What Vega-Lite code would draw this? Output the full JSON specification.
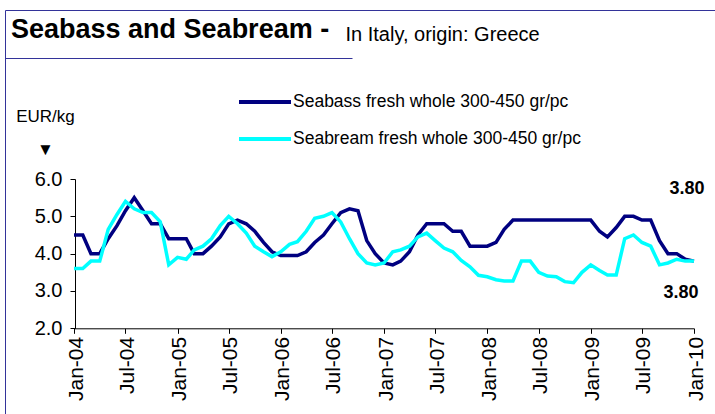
{
  "$schema": "https://vega.github.io/schema/vega-lite/v6.json",
  "width": 715,
  "height": 409,
  "autosize": "none",
  "padding": {"left": 5, "top": 10, "right": -5, "bottom": -5},
  "background": "white",
  "config": {
    "view": {"stroke": "#333399", "strokeWidth": 1},
    "font": "Liberation Sans",
    "axis": {"grid": false, "domainColor": "black", "tickColor": "black", "labelColor": "black", "titleColor": "black", "domainWidth": 1, "tickWidth": 1, "labelFont": "Liberation Sans", "titleFont": "Liberation Sans"}
  },
  "title": {"text": "Seabass and Seabream -", "anchor": "start", "frame": "group", "fontSize": 27, "fontWeight": "bold", "font": "Liberation Sans", "color": "black", "dx": 6, "dy": 59, "baseline": "alphabetic"},
  "resolve": {"scale": {"x": "independent"}, "axis": {"x": "independent"}},
  "datasets": {
    "prices": [
      {"d": "2004/01/01", "Seabass": 4.5, "Seabream": 3.6},
      {"d": "2004/02/01", "Seabass": 4.5, "Seabream": 3.6},
      {"d": "2004/03/01", "Seabass": 4.0, "Seabream": 3.8},
      {"d": "2004/04/01", "Seabass": 4.0, "Seabream": 3.8},
      {"d": "2004/05/01", "Seabass": 4.4, "Seabream": 4.65},
      {"d": "2004/06/01", "Seabass": 4.75, "Seabream": 5.05},
      {"d": "2004/07/01", "Seabass": 5.15, "Seabream": 5.4},
      {"d": "2004/08/01", "Seabass": 5.5, "Seabream": 5.2},
      {"d": "2004/09/01", "Seabass": 5.15, "Seabream": 5.1},
      {"d": "2004/10/01", "Seabass": 4.8, "Seabream": 5.1},
      {"d": "2004/11/01", "Seabass": 4.8, "Seabream": 4.85},
      {"d": "2004/12/01", "Seabass": 4.4, "Seabream": 3.7},
      {"d": "2005/01/01", "Seabass": 4.4, "Seabream": 3.9},
      {"d": "2005/02/01", "Seabass": 4.4, "Seabream": 3.85},
      {"d": "2005/03/01", "Seabass": 4.0, "Seabream": 4.1},
      {"d": "2005/04/01", "Seabass": 4.0, "Seabream": 4.2},
      {"d": "2005/05/01", "Seabass": 4.2, "Seabream": 4.4},
      {"d": "2005/06/01", "Seabass": 4.45, "Seabream": 4.75},
      {"d": "2005/07/01", "Seabass": 4.8, "Seabream": 5.0},
      {"d": "2005/08/01", "Seabass": 4.9, "Seabream": 4.8},
      {"d": "2005/09/01", "Seabass": 4.8, "Seabream": 4.55},
      {"d": "2005/10/01", "Seabass": 4.6, "Seabream": 4.2},
      {"d": "2005/11/01", "Seabass": 4.3, "Seabream": 4.05},
      {"d": "2005/12/01", "Seabass": 4.05, "Seabream": 3.92},
      {"d": "2006/01/01", "Seabass": 3.95, "Seabream": 4.05},
      {"d": "2006/02/01", "Seabass": 3.95, "Seabream": 4.25},
      {"d": "2006/03/01", "Seabass": 3.95, "Seabream": 4.32},
      {"d": "2006/04/01", "Seabass": 4.05, "Seabream": 4.6},
      {"d": "2006/05/01", "Seabass": 4.3, "Seabream": 4.95},
      {"d": "2006/06/01", "Seabass": 4.5, "Seabream": 5.0},
      {"d": "2006/07/01", "Seabass": 4.8, "Seabream": 5.1},
      {"d": "2006/08/01", "Seabass": 5.1, "Seabream": 4.85},
      {"d": "2006/09/01", "Seabass": 5.2, "Seabream": 4.4},
      {"d": "2006/10/01", "Seabass": 5.15, "Seabream": 4.0},
      {"d": "2006/11/01", "Seabass": 4.35, "Seabream": 3.75},
      {"d": "2006/12/01", "Seabass": 4.0, "Seabream": 3.7},
      {"d": "2007/01/01", "Seabass": 3.75, "Seabream": 3.75},
      {"d": "2007/02/01", "Seabass": 3.7, "Seabream": 4.05},
      {"d": "2007/03/01", "Seabass": 3.8, "Seabream": 4.1},
      {"d": "2007/04/01", "Seabass": 4.05, "Seabream": 4.2},
      {"d": "2007/05/01", "Seabass": 4.5, "Seabream": 4.45},
      {"d": "2007/06/01", "Seabass": 4.8, "Seabream": 4.55},
      {"d": "2007/07/01", "Seabass": 4.8, "Seabream": 4.35},
      {"d": "2007/08/01", "Seabass": 4.8, "Seabream": 4.15},
      {"d": "2007/09/01", "Seabass": 4.6, "Seabream": 4.05},
      {"d": "2007/10/01", "Seabass": 4.6, "Seabream": 3.82},
      {"d": "2007/11/01", "Seabass": 4.2, "Seabream": 3.65},
      {"d": "2007/12/01", "Seabass": 4.2, "Seabream": 3.42},
      {"d": "2008/01/01", "Seabass": 4.2, "Seabream": 3.38},
      {"d": "2008/02/01", "Seabass": 4.3, "Seabream": 3.3},
      {"d": "2008/03/01", "Seabass": 4.65, "Seabream": 3.27},
      {"d": "2008/04/01", "Seabass": 4.9, "Seabream": 3.27},
      {"d": "2008/05/01", "Seabass": 4.9, "Seabream": 3.8},
      {"d": "2008/06/01", "Seabass": 4.9, "Seabream": 3.8},
      {"d": "2008/07/01", "Seabass": 4.9, "Seabream": 3.5},
      {"d": "2008/08/01", "Seabass": 4.9, "Seabream": 3.4},
      {"d": "2008/09/01", "Seabass": 4.9, "Seabream": 3.38},
      {"d": "2008/10/01", "Seabass": 4.9, "Seabream": 3.25},
      {"d": "2008/11/01", "Seabass": 4.9, "Seabream": 3.22},
      {"d": "2008/12/01", "Seabass": 4.9, "Seabream": 3.5},
      {"d": "2009/01/01", "Seabass": 4.9, "Seabream": 3.7},
      {"d": "2009/02/01", "Seabass": 4.6, "Seabream": 3.55},
      {"d": "2009/03/01", "Seabass": 4.45, "Seabream": 3.43},
      {"d": "2009/04/01", "Seabass": 4.7, "Seabream": 3.43},
      {"d": "2009/05/01", "Seabass": 5.0, "Seabream": 4.4},
      {"d": "2009/06/01", "Seabass": 5.0, "Seabream": 4.5},
      {"d": "2009/07/01", "Seabass": 4.9, "Seabream": 4.3},
      {"d": "2009/08/01", "Seabass": 4.9, "Seabream": 4.2},
      {"d": "2009/09/01", "Seabass": 4.35, "Seabream": 3.7},
      {"d": "2009/10/01", "Seabass": 4.0, "Seabream": 3.75},
      {"d": "2009/11/01", "Seabass": 4.0, "Seabream": 3.85},
      {"d": "2009/12/01", "Seabass": 3.85, "Seabream": 3.8},
      {"d": "2010/01/01", "Seabass": 3.8, "Seabream": 3.8}
    ],
    "labels": [
      {"d": "2010/01/01", "series": "Seabass", "price": 3.8, "label": "3.80"},
      {"d": "2010/01/01", "series": "Seabream", "price": 3.8, "label": "3.80"}
    ]
  },
  "layer": [
    {
      "data": {"name": "prices"},
      "transform": [{"fold": ["Seabass", "Seabream"], "as": ["series", "price"]}],
      "mark": {"type": "line", "strokeWidth": 3.5, "strokeJoin": "miter"},
      "encoding": {
        "x": {
          "field": "d", "type": "temporal",
          "scale": {"domain": [{"year": 2004, "month": 1, "date": 1}, {"year": 2010, "month": 1, "date": 1}], "range": [69, 689]},
          "axis": {
            "orient": "bottom", "offset": -90.7, "format": "%b-%y",
            "tickCount": {"interval": "month", "step": 6},
            "labelAngle": -90, "labelAlign": "right", "labelBaseline": "middle",
            "labelFontSize": 21, "labelPadding": 3, "labelOffset": 2, "labelOverlap": false, "labelFlush": false,
            "tickSize": 5,
            "title": "In Italy, origin: Greece", "titleX": 340, "titleY": -287.5, "titleAlign": "left", "titleAngle": 0,
            "titleBaseline": "alphabetic", "titleFontSize": 20, "titleFontWeight": "normal"
          }
        },
        "y": {
          "field": "price", "type": "quantitative",
          "scale": {"domain": [2, 6], "range": [318.3, 169], "zero": false, "nice": false},
          "axis": {
            "orient": "left", "offset": -70, "values": [2, 3, 4, 5, 6], "format": ".1f",
            "labelFontSize": 20, "labelPadding": 8, "tickSize": 5,
            "title": ["EUR/kg", "▼"], "titleAngle": 0, "titleAlign": "center", "titleBaseline": "alphabetic",
            "titleX": -30, "titleY": 111, "titleFontSize": 17, "titleFontWeight": "normal", "titleLineHeight": 33
          }
        },
        "color": {
          "field": "series", "type": "nominal",
          "scale": {"domain": ["Seabass", "Seabream"], "range": ["#000080", "#00FFFF"]},
          "legend": {
            "orient": "none", "legendX": 232, "legendY": 64, "title": null,
            "symbolType": "stroke", "symbolSize": 2704, "symbolStrokeWidth": 4,
            "labelFontSize": 17.5, "labelFont": "Liberation Sans", "labelColor": "black", "labelOffset": 0, "labelLimit": 0,
            "rowPadding": -15, "padding": 0,
            "labelExpr": "datum.label + ' fresh whole 300-450 gr/pc'"
          }
        }
      }
    },
    {
      "data": {"name": "labels"},
      "transform": [{"filter": "datum.series == 'Seabass'"}],
      "mark": {"type": "text", "font": "Liberation Sans", "fontSize": 18, "fontWeight": "bold", "dx": -7, "dy": -72, "align": "center", "baseline": "middle", "color": "black"},
      "encoding": {
        "x": {"field": "d", "type": "temporal", "scale": {"domain": [{"year": 2004, "month": 1, "date": 1}, {"year": 2010, "month": 1, "date": 1}], "range": [69, 689]}, "axis": null},
        "y": {"field": "price", "type": "quantitative"},
        "text": {"field": "label"}
      }
    },
    {
      "data": {"name": "labels"},
      "transform": [{"filter": "datum.series == 'Seabream'"}],
      "mark": {"type": "text", "font": "Liberation Sans", "fontSize": 18, "fontWeight": "bold", "dx": -13, "dy": 32, "align": "center", "baseline": "middle", "color": "black"},
      "encoding": {
        "x": {"field": "d", "type": "temporal", "scale": {"domain": [{"year": 2004, "month": 1, "date": 1}, {"year": 2010, "month": 1, "date": 1}], "range": [69, 689]}, "axis": null},
        "y": {"field": "price", "type": "quantitative"},
        "text": {"field": "label"}
      }
    },
    {
      "data": {"values": [{"u": 0}]},
      "mark": {"type": "point", "opacity": 0},
      "encoding": {
        "x": {"field": "u", "type": "quantitative", "scale": {"domain": [0, 1], "range": [0, 347]},
          "axis": {"orient": "top", "offset": -48, "domainColor": "#333399", "domainWidth": 1, "ticks": false, "labels": false, "title": null, "grid": false}}
      }
    }
  ]
}
